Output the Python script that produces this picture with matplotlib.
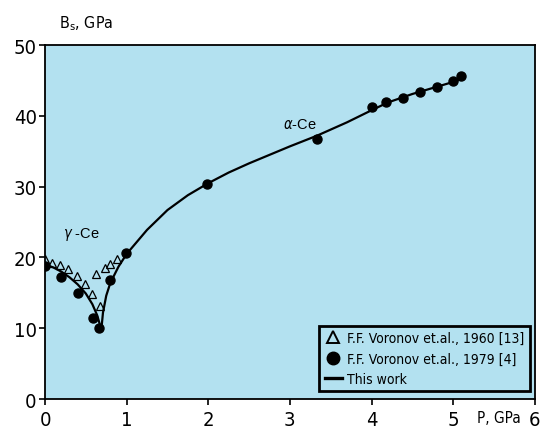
import matplotlib
matplotlib.use('Agg')
import matplotlib.pyplot as plt
from matplotlib.lines import Line2D

plt.rcParams['font.family'] = ['DejaVu Sans']
plt.rcParams['font.stretch'] = 'condensed'

# Voronov et al., 1960 [13] - open triangles
tri_p = [0.0, 0.09, 0.18, 0.28, 0.39, 0.49, 0.58, 0.67, 0.63, 0.73, 0.80, 0.88]
tri_b = [19.8, 19.2, 18.9, 18.4, 17.4, 16.3, 14.9, 13.2, 17.6, 18.5, 19.1, 19.8]

# Voronov et al., 1979 [4] - filled circles
dot_p = [0.0, 0.2, 0.40, 0.59, 0.66, 0.80, 0.99, 1.99, 3.33, 4.0, 4.18, 4.39, 4.59, 4.80, 5.0, 5.1]
dot_b = [18.8, 17.2, 15.0, 11.4, 10.0, 16.8, 20.7, 30.4, 36.8, 41.2, 41.9, 42.6, 43.4, 44.1, 45.0, 45.6]

# This work - gamma branch and alpha branch
gam_p = [0.0, 0.1, 0.2, 0.3, 0.4, 0.5, 0.58, 0.64, 0.67, 0.69]
gam_b = [19.0, 18.6, 18.0, 17.2, 16.2, 14.9, 13.4, 11.8, 10.6, 9.8]
alp_p = [0.69, 0.71, 0.75, 0.8, 0.9, 1.0, 1.25, 1.5, 1.75, 2.0, 2.25, 2.5, 2.75, 3.0, 3.33,
         3.7, 4.0, 4.2, 4.5, 5.0, 5.1]
alp_b = [9.8, 12.2, 14.6, 16.4, 18.7, 20.5, 23.9, 26.7, 28.8, 30.5, 32.0, 33.3, 34.5, 35.7, 37.2,
         39.1, 40.8, 41.9, 43.1, 44.8, 45.2]

fig = plt.figure(figsize=(5.43, 4.31), dpi=100)
ax = fig.add_axes([0.0829, 0.0719, 0.902, 0.821])
ax.set_facecolor('#b3e1f0')

ax.plot(gam_p, gam_b, color='black', lw=1.6)
ax.plot(alp_p, alp_b, color='black', lw=1.6)
ax.plot(tri_p, tri_b, ls='none', marker='^', ms=6, mfc='none', mec='black', mew=0.9)
ax.plot(dot_p, dot_b, ls='none', marker='o', ms=6.5, color='black')

ax.text(0.44, 23.4, r'$\gamma$ -Ce', fontsize=10.5, family='Liberation Sans', stretch='normal',
        ha='center', va='center')
ax.text(3.12, 38.9, r'$\alpha$-Ce', fontsize=10.5, family='Liberation Sans', stretch='normal',
        ha='center', va='center')

ax.set_xlim(0, 6)
ax.set_ylim(0, 50)
ax.set_xticks([0, 1, 2, 3, 4, 5, 6])
ax.set_yticks([0, 10, 20, 30, 40, 50])
ax.tick_params(labelsize=14.5, length=4, width=1.2, direction='out', pad=2)
ax.tick_params(axis='x', pad=4)
for s in ax.spines.values():
    s.set_linewidth(1.3)

fig.text(0.109, 0.944, r'B$_\mathrm{s}$, GPa', fontsize=11.5, ha='left', va='center')
fig.text(0.879, 0.028, 'P, GPa', fontsize=11, ha='left', va='center')

handles = [
    Line2D([], [], ls='none', marker='^', ms=9, mfc='none', mec='black', mew=1.4),
    Line2D([], [], ls='none', marker='o', ms=9, color='black'),
    Line2D([], [], color='black', lw=2.4),
]
labels = ['F.F. Voronov et.al., 1960 [13]', 'F.F. Voronov et.al., 1979 [4]', 'This work']
leg = ax.legend(handles, labels, loc='lower right', bbox_to_anchor=(0.990, 0.022),
                borderaxespad=0, fontsize=10, frameon=True, fancybox=False,
                handlelength=1.2, handletextpad=0.4, labelspacing=0.45, borderpad=0.4)
leg.get_frame().set_edgecolor('black')
leg.get_frame().set_linewidth(2.0)
leg.get_frame().set_facecolor('#b3e1f0')
leg.get_frame().set_alpha(1)

fig.savefig('out.png', dpi=100)
